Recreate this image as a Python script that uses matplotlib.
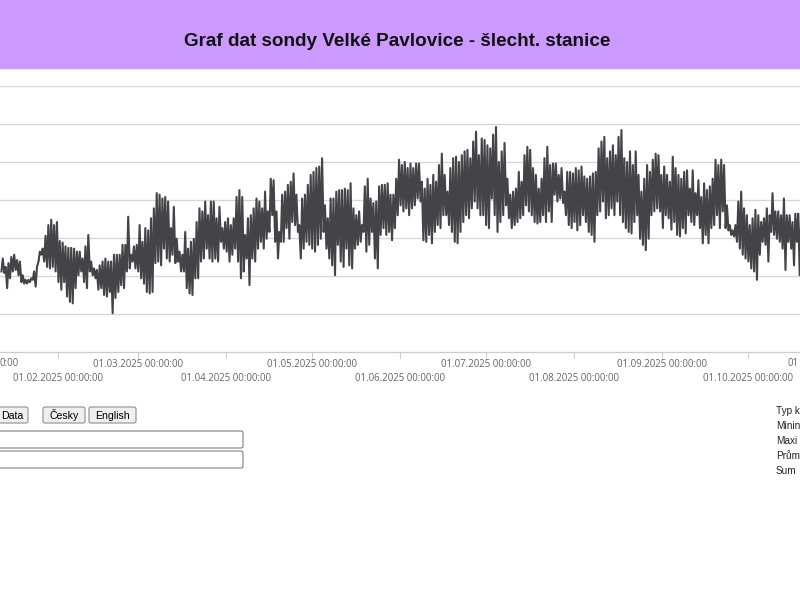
import matplotlib
matplotlib.use("Agg")
import matplotlib.pyplot as plt
import matplotlib.dates as mdates
from matplotlib.ticker import FuncFormatter
from matplotlib.patches import Rectangle, FancyBboxPatch
from datetime import datetime, timedelta

plt.rcParams['font.family'] = ['Open Sans', 'DejaVu Sans']

title = "Graf dat sondy Velké Pavlovice - šlecht. stanice"
first_day = datetime(2025, 1, 12)

# denni maxima / minima (od 12.01.2025)
day_max = [2.3, 1.2, 1.7, 2.5, 2.8, 2.1, 1.9, 0.1, -0.5, -0.5,
           -0.3, 0.6, 1.2, 3.2, 3.6, 5.3, 6.7, 7.4, 6.7, 7.1,
           4.6, 4.4, 3.9, 3.7, 3.7, 3.6, 3.2, 3.2, 2.3, 3.9,
           5.4, 1.9, 1.0, 0.8, 1.4, 1.9, 2.3, 1.9, 1.9, 2.8,
           2.8, 2.8, 4.1, 4.1, 7.8, 2.8, 3.9, 4.1, 6.7, 4.5,
           6.3, 6.0, 7.6, 8.9, 10.9, 10.7, 10.2,
           10.4, 9.8, 6.3, 9.1, 4.9, 3.2, 2.8, 5.8, 3.6, 4.5,
           4.9, 7.1, 8.9, 8.5, 9.8, 8.0, 9.8, 9.8, 7.6, 9.1,
           6.3, 7.1, 7.6, 6.7, 7.6, 10.4, 11.3, 10.4, 5.4, 7.6,
           8.0, 8.9, 10.2, 9.8, 8.9, 11.1, 8.5, 12.8, 12.6, 8.5,
           5.8, 10.7, 11.1, 12.0, 12.4, 13.5, 10.7, 6.7, 10.2, 10.7,
           12.0, 13.3, 13.7, 14.2, 14.4, 15.5,
           9.3, 7.6, 10.2, 10.2, 11.1, 11.3, 11.3, 11.5, 11.3, 12.2,
           8.9, 8.0, 8.5, 6.7, 11.8, 12.8, 10.2, 9.6, 9.8, 11.8,
           12.0, 12.0, 12.2, 10.7, 10.7, 12.8, 15.3, 14.6, 15.0, 14.2,
           14.8, 14.2, 14.8, 14.8, 12.4, 11.5, 12.8, 12.0, 13.3, 12.4,
           14.6, 16.1, 13.3, 11.1, 14.2, 15.5, 15.7, 15.0, 15.9, 16.4,
           16.6, 15.5, 17.7, 19.0, 15.9, 18.1,
           17.9, 17.2, 16.8, 18.6, 19.6, 15.0, 16.4, 17.5, 12.8, 10.7,
           11.1, 11.5, 13.7, 12.4, 15.9, 17.0, 16.6, 14.2, 13.3, 11.5,
           12.8, 15.5, 17.0, 14.6, 14.8, 14.8, 13.3, 14.2, 11.1, 13.7,
           13.7, 13.5, 14.2, 13.9, 14.4, 13.1, 12.8, 13.1, 13.5, 13.7,
           16.8, 17.7, 18.3, 15.5, 16.4, 17.2, 15.9, 18.3, 19.2, 15.5,
           15.0, 16.4, 14.6, 16.4, 13.3, 11.1,
           12.8, 14.6, 13.7, 15.3, 16.1, 15.9, 13.3, 14.4, 13.3, 12.4,
           15.7, 14.2, 13.3, 12.8, 13.7, 13.9, 11.5, 13.9, 10.9, 12.6,
           10.4, 12.2, 11.3, 11.8, 12.8, 15.3, 14.6, 15.3, 14.6, 9.3,
           6.7, 6.0, 6.7, 9.8, 11.1, 8.9, 8.0, 6.7, 7.6, 8.7,
           8.0, 7.1, 7.6, 8.9, 8.0, 10.9, 8.5, 8.5, 8.0, 10.2,
           8.0, 8.0, 7.1, 8.2, 8.2, 8.0]

day_min = [0.6, 0.4, -1.6, -0.3, 0.6, 0.8, 0.1, -0.8, -1.0, -1.0,
           -0.8, -0.5, -1.4, 1.9, 2.8, 1.9, 1.2, 1.0, 1.2, 0.6,
           -0.8, -1.8, -0.8, -2.7, -3.4, -3.6, -1.6, 0.1, 0.6, -0.8,
           -1.6, 0.6, 0.1, -0.3, -1.8, -1.6, -2.5, -2.7, -2.1, -4.9,
           -2.9, -2.1, -1.2, -1.6, 0.6, 1.0, 1.9, 1.0, 0.6, -0.3,
           -1.0, -2.1, -2.3, -2.1, 1.7, 1.9, 1.4,
           3.6, 2.3, 1.9, 2.8, 1.7, 1.9, 0.6, 0.6, -1.6, -2.3,
           -2.5, -0.3, -0.3, 1.9, 2.3, 3.6, 2.3, 1.9, 2.3, 1.9,
           4.5, 3.6, 3.2, 1.9, 2.8, 3.6, 1.9, -0.3, 0.6, 2.3,
           -1.2, 2.3, 1.9, 3.6, 4.5, 3.6, 4.9, 5.8, 8.0, 4.5,
           2.3, 4.5, 4.5, 6.3, 4.9, 7.1, 6.7, 5.8, 2.3, 3.6,
           4.5, 4.1, 3.6, 3.2, 4.1, 4.9,
           5.8, 3.6, 2.3, 1.4, 0.1, 4.1, 1.9, 1.2, 3.6, 1.4,
           1.0, 3.6, 4.1, 4.5, 5.8, 3.2, 4.1, 5.8, 2.3, 1.0,
           5.4, 6.3, 5.4, 5.8, 4.7, 6.3, 8.0, 9.3, 8.5, 8.9,
           8.0, 8.9, 9.3, 10.2, 9.8, 4.7, 4.5, 5.4, 4.3, 5.8,
           6.7, 6.3, 8.0, 8.0, 6.7, 5.8, 4.5, 4.3, 5.8, 7.1,
           8.0, 7.6, 8.9, 9.8, 8.9, 8.0,
           8.0, 6.7, 6.3, 10.2, 8.0, 5.8, 7.1, 8.0, 9.3, 7.6,
           6.3, 6.7, 7.1, 7.6, 8.0, 9.3, 8.5, 8.0, 7.1, 6.9,
           7.1, 8.0, 7.1, 8.5, 7.1, 10.7, 9.8, 10.2, 9.6, 8.0,
           6.7, 6.3, 7.1, 6.0, 6.7, 8.0, 7.1, 5.8, 5.4, 4.5,
           8.0, 8.5, 9.8, 7.6, 8.0, 8.9, 8.0, 9.8, 8.0, 7.1,
           6.3, 5.8, 5.6, 7.1, 8.0, 4.9,
           4.1, 3.4, 4.9, 8.0, 8.5, 8.9, 8.5, 6.3, 8.0, 7.6,
           6.1, 7.1, 5.4, 5.2, 6.3, 5.6, 8.0, 7.1, 6.7, 8.0,
           6.3, 4.3, 5.4, 4.3, 6.3, 6.7, 8.0, 6.3, 8.5, 6.3,
           6.0, 5.4, 5.2, 4.5, 3.6, 2.8, 2.3, 1.9, 1.0, 0.6,
           -0.5, 2.8, 4.5, 4.1, 1.9, 5.8, 5.4, 4.9, 4.5, 3.6,
           0.8, 4.5, 3.6, 1.4, 4.5, 0.1]

grid_values = [-5, 0, 5, 10, 15, 20, 25]
buttons = ["Data", "Česky", "English"]
# okno je oriznute, je videt jen zacatek popisku
stats_labels = ["Typ k", "Minin", "Maxi", "Prům", "Sum"]
edge_tick_left = "0:00"
edge_tick_right = "01"

# casova osa - minimum rano, maximum odpoledne
times = []
values = []
for i in range(len(day_max)):
    d = first_day + timedelta(days=i)
    times.append(d + timedelta(hours=4))
    values.append(day_min[i])
    times.append(d + timedelta(hours=15))
    values.append(day_max[i])

fig = plt.figure(figsize=(8, 6), dpi=100)

# graf je sirsi nez okno, osa x jde pres okraje
ax = fig.add_axes([-40 / 800, (600 - 352) / 600, 880 / 800, 266 / 600])
ax.plot(times, values, color='#434348', lw=1.5)

px_per_day = 2.851
feb1 = mdates.date2num(datetime(2025, 2, 1))
ax.set_xlim(feb1 - 98 / px_per_day, feb1 + 782 / px_per_day)
ax.set_ylim(-10, 25)
ax.set_yticks(grid_values)
ax.grid(axis='y', color='#d6d6d6', lw=0.9)
ax.set_axisbelow(True)

vis_left = feb1 - 10 / px_per_day
vis_right = feb1 + 730 / px_per_day


def date_label(x, pos):
    if x < vis_left or x > vis_right:
        return ''
    return mdates.num2date(x).strftime('%d.%m.%Y %H:%M:%S')


ax.xaxis.set_major_locator(mdates.MonthLocator(bymonth=[1, 3, 5, 7, 9, 11]))
ax.xaxis.set_minor_locator(mdates.MonthLocator(bymonth=[2, 4, 6, 8, 10, 12]))
ax.xaxis.set_major_formatter(FuncFormatter(date_label))
ax.xaxis.set_minor_formatter(FuncFormatter(date_label))
ax.tick_params(axis='x', which='both', length=4.3, width=0.8, color='#cccccc',
               labelsize=6.9, labelcolor='#666666')
ax.tick_params(axis='x', which='major', pad=1)
ax.tick_params(axis='x', which='minor', pad=10.5)
ax.tick_params(axis='y', left=False, labelleft=False)
for s in ['top', 'left', 'right']:
    ax.spines[s].set_visible(False)
ax.spines['bottom'].set_color('#cccccc')
ax.spines['bottom'].set_linewidth(0.9)

# stranka okolo grafu (v pixelech)
ui = fig.add_axes([0, 0, 1, 1])
ui.set_xlim(0, 800)
ui.set_ylim(600, 0)
ui.axis('off')

ui.add_patch(Rectangle((0, 0), 800, 68, color='#cc99ff'))
ui.text(397.5, 46.5, title, ha='center', va='baseline', fontsize=13.6,
        fontweight='bold', color='#111111', family=['Liberation Sans', 'DejaVu Sans'])

# useknute popisky osy na okrajich
ui.text(0, 364, edge_tick_left, ha='left', va='center', fontsize=6.9, color='#666666')
ui.text(799, 364, edge_tick_right, ha='right', va='center', fontsize=6.9, color='#666666')

btn_boxes = [(-10, 28), (43, 85), (89, 136)]
for label, (x0, x1) in zip(buttons, btn_boxes):
    ui.add_patch(FancyBboxPatch((x0, 407), x1 - x0, 16,
                                boxstyle='round,pad=0,rounding_size=2',
                                fc='#efefef', ec='#8f8f8f', lw=0.8))
    if x0 < 0:
        ui.text(1, 419, label, ha='left', va='baseline', fontsize=7.6,
                color='black', family=['Liberation Sans', 'DejaVu Sans'])
    else:
        ui.text((x0 + x1) / 2, 419, label, ha='center', va='baseline', fontsize=7.6,
                color='black', family=['Liberation Sans', 'DejaVu Sans'])

for y0 in [431, 451]:
    ui.add_patch(FancyBboxPatch((-5, y0), 248, 17,
                                boxstyle='round,pad=0,rounding_size=2',
                                fc='white', ec='#808080', lw=0.8))

for i, lab in enumerate(stats_labels):
    ui.text(776, 414 + 15 * i, lab, ha='left', va='baseline', fontsize=7.2,
            color='#222222', family=['Liberation Sans', 'DejaVu Sans'])

fig.savefig('out.png', dpi=100)
